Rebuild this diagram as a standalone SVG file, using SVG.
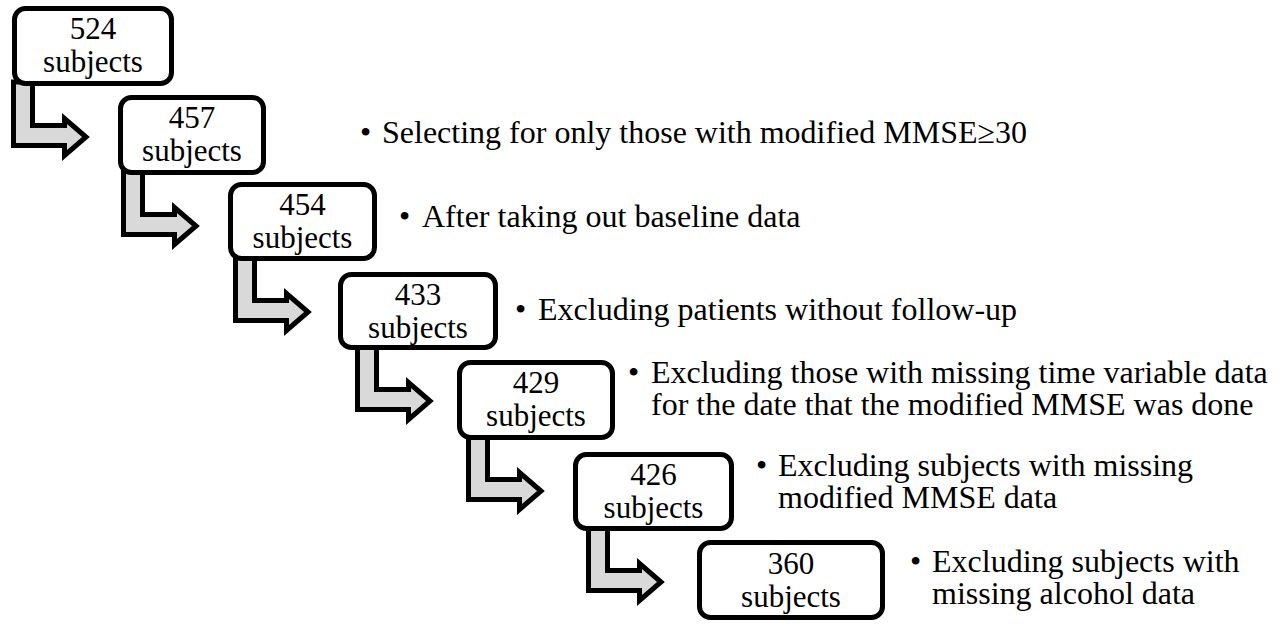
<svg xmlns="http://www.w3.org/2000/svg" xmlns:xlink="http://www.w3.org/1999/xlink" width="1288" height="624" viewBox="0 0 1288 624">
  <style>
    .box { fill: #ffffff; stroke: #000000; stroke-width: 5; }
    .bend { fill: #d9d9d9; stroke: #000000; stroke-width: 5; stroke-linejoin: miter; stroke-miterlimit: 10; }
    .count { font-family: "Liberation Serif", "Times New Roman", serif; font-size: 31px; fill: #000000; text-anchor: middle; }
    .note { font-family: "Liberation Serif", "Times New Roman", serif; font-size: 32px; fill: #000000; }
  </style>
  <defs>
    <!-- L-shaped block arrow: stem drops from a box, then turns right -->
    <path id="bend-arrow" class="bend" d="M2.5,-4 L2.5,59.5 L53.5,59.5 L53.5,69.5 L75,51 L53.5,32.5 L53.5,39.5 L21.5,39.5 L21.5,-4 Z"/>
  </defs>

  <rect width="1288" height="624" fill="#ffffff"/>

  <g id="connectors">
    <use xlink:href="#bend-arrow" href="#bend-arrow" x="11" y="86"/>
    <use xlink:href="#bend-arrow" href="#bend-arrow" x="121" y="175"/>
    <use xlink:href="#bend-arrow" href="#bend-arrow" x="233" y="261"/>
    <use xlink:href="#bend-arrow" href="#bend-arrow" x="355" y="350"/>
    <use xlink:href="#bend-arrow" href="#bend-arrow" x="466" y="440"/>
    <use xlink:href="#bend-arrow" href="#bend-arrow" x="586" y="531"/>
  </g>

  <g id="n524">
    <rect class="box" x="14.5" y="8.5" width="157" height="75" rx="11"/>
    <text class="count" x="93" y="39">524</text>
    <text class="count" x="93" y="72">subjects</text>
  </g>

  <g id="n457">
    <rect class="box" x="120.5" y="97.5" width="143" height="75" rx="11"/>
    <text class="count" x="192" y="128">457</text>
    <text class="count" x="192" y="161">subjects</text>
    <text class="note"><tspan x="360" y="143">•</tspan><tspan x="382" y="143">Selecting for only those with modified MMSE≥30</tspan></text>
  </g>

  <g id="n454">
    <rect class="box" x="230.5" y="184.5" width="144" height="74" rx="11"/>
    <text class="count" x="302.5" y="215">454</text>
    <text class="count" x="302.5" y="248">subjects</text>
    <text class="note"><tspan x="399" y="227">•</tspan><tspan x="422" y="227">After taking out baseline data</tspan></text>
  </g>

  <g id="n433">
    <rect class="box" x="340.5" y="274.5" width="155" height="73" rx="11"/>
    <text class="count" x="418" y="305">433</text>
    <text class="count" x="418" y="338">subjects</text>
    <text class="note"><tspan x="515" y="320">•</tspan><tspan x="538" y="320">Excluding patients without follow-up</tspan></text>
  </g>

  <g id="n429">
    <rect class="box" x="459.5" y="362.5" width="153" height="75" rx="11"/>
    <text class="count" x="536" y="393">429</text>
    <text class="count" x="536" y="426">subjects</text>
    <text class="note"><tspan x="628" y="383">•</tspan><tspan x="651" y="383">Excluding those with missing time variable data</tspan><tspan x="651" y="415">for the date that the modified MMSE was done</tspan></text>
  </g>

  <g id="n426">
    <rect class="box" x="575.5" y="454.5" width="156" height="74" rx="11"/>
    <text class="count" x="653.5" y="485">426</text>
    <text class="count" x="653.5" y="518">subjects</text>
    <text class="note"><tspan x="756" y="476">•</tspan><tspan x="778" y="476">Excluding subjects with missing</tspan><tspan x="778" y="508">modified MMSE data</tspan></text>
  </g>

  <g id="n360">
    <rect class="box" x="699.5" y="542.5" width="183" height="75" rx="11"/>
    <text class="count" x="791" y="574">360</text>
    <text class="count" x="791" y="607">subjects</text>
    <text class="note"><tspan x="910" y="572">•</tspan><tspan x="932" y="572">Excluding subjects with</tspan><tspan x="932" y="604">missing alcohol data</tspan></text>
  </g>
</svg>
